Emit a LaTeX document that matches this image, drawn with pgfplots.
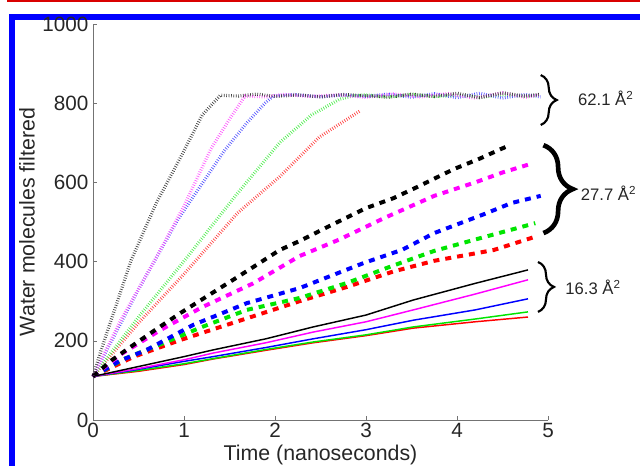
\documentclass[border=0pt]{standalone}
\usepackage{pgfplots}
\pgfplotsset{compat=1.18}
\usepackage{fontspec}
\setmainfont{Liberation Sans}
\usetikzlibrary{decorations.pathreplacing}
\definecolor{mgreen}{rgb}{0,0.9,0}
\definecolor{mmag}{rgb}{1,0,1}
\definecolor{mblue}{rgb}{0,0,1}
\definecolor{mred}{rgb}{1,0,0}
\definecolor{mblack}{rgb}{0,0,0}
\definecolor{fblue}{rgb}{0.2,0.2,1}
\begin{document}
\begin{tikzpicture}
\useasboundingbox (0pt,0pt) rectangle (480pt,349.5pt);
\draw[red!85!black, line width=1.6pt] (5.25pt,348.45pt) -- (480pt,348.45pt);
\draw[blue, line width=4.5pt] (9pt,0pt) -- (9pt,337.1pt) -- (482pt,337.1pt);
\begin{axis}[
  at={(69.75pt,34.5pt)}, anchor=south west,
  scale only axis, width=341.25pt, height=297pt,
  xmin=0, xmax=5, ymin=0, ymax=1000,
  axis lines=left, axis line style={-, draw=black!55},
  xtick={0,1,2,3,4,5}, ytick={0,200,400,600,800,1000},
  tick align=inside, major tick length=3pt,
  tick style={black!55},
  /pgf/number format/assume math mode=true,
  /pgf/number format/1000 sep={},
  tick label style={font=\fontsize{15.5}{17}\selectfont, text=black!85},
  xticklabel style={yshift=1pt},
  label style={font=\fontsize{16}{18}\selectfont, text=black!85},
  xlabel={Time (nanoseconds)},
  ylabel={Water molecules filtered},
  xlabel style={at={(axis description cs:0.5,-0.088)}, anchor=center},
  ylabel style={at={(axis description cs:-0.145,0.5)}, anchor=center},
  clip=false,
  dotsty/.style={line width=2.4pt, dash pattern=on 0.5pt off 1.3pt},
  dashsty/.style={line width=3pt, dash pattern=on 4.5pt off 4.5pt},
  solsty/.style={line width=1.1pt},
]
% ---- 62.1 A^2 (dotted)
\addplot[dotsty, mred!75] coordinates {(0,110)(0.5,245)(1.01,371)(1.59,523)(2.05,614)(2.49,715)(2.93,780)};
\addplot[dotsty, mgreen!70] coordinates {(0,110)(0.5,260)(1.01,404)(1.59,573)(2.05,700)(2.4,770)(2.71,810)(2.85,818)(3.0,821)(3.25,816)(3.5,822)(3.75,817)(4.0,820)(4.25,815)(4.5,821)(4.75,817)(4.9,820)};
\addplot[dotsty, fblue!85] coordinates {(0,110)(0.5,330)(0.93,505)(1.1,563)(1.45,682)(1.69,750)(1.89,800)(1.98,818)(2.2,822)(2.5,816)(2.75,821)(3.0,817)(3.25,823)(3.5,815)(3.75,824)(4.0,814)(4.25,825)(4.5,813)(4.75,822)(4.92,816)};
\addplot[dotsty, mmag!65] coordinates {(0,110)(0.3,250)(0.68,404)(1.0,540)(1.29,682)(1.5,760)(1.67,818)(1.9,816)(2.1,822)(2.4,817)(2.7,821)(3.0,815)(3.3,823)(3.6,816)(3.9,824)(4.2,813)(4.5,826)(4.75,815)(4.9,821)};
\addplot[dotsty, mblack!75] coordinates {(0,110)(0.09,177)(0.42,404)(0.7,550)(0.96,662)(1.2,770)(1.40,820)(1.6,818)(1.8,823)(2.0,817)(2.25,821)(2.5,816)(2.75,822)(3.0,819)(3.25,815)(3.5,823)(3.75,817)(4.0,825)(4.25,814)(4.5,826)(4.75,818)(4.9,822)};
% ---- 27.7 A^2 (dashed)
\addplot[dashsty, mred] coordinates {(0,110)(0.45,160)(0.96,202)(1.4,235)(1.87,270)(2.27,300)(2.79,336)(3.3,375)(3.75,402)(4.4,429)(4.89,465)};
\addplot[dashsty, mgreen] coordinates {(0,110)(0.35,155)(0.77,194)(1.2,235)(1.69,278)(2.27,308)(2.79,346)(3.3,390)(3.75,427)(4.3,462)(4.86,497)};
\addplot[dashsty, mblue] coordinates {(0,110)(0.3,150)(0.59,177)(1.1,240)(1.69,295)(2.27,333)(2.97,396)(3.4,430)(3.75,472)(4.3,520)(4.6,548)(4.92,566)};
\addplot[dashsty, mmag] coordinates {(0,110)(0.3,165)(0.74,227)(1.2,285)(1.76,345)(2.27,414)(2.7,455)(3.2,510)(3.75,566)(4.2,600)(4.5,625)(4.80,646)};
\addplot[dashsty, mblack] coordinates {(0,110)(0.2,150)(0.41,184)(0.7,230)(0.96,270)(1.25,312)(1.54,354)(1.8,392)(2.05,429)(2.27,452)(2.6,490)(3.0,535)(3.3,560)(3.56,588)(3.97,634)(4.25,660)(4.48,684)(4.58,694)};
% ---- 16.3 A^2 (solid)
\addplot[solsty, mred] coordinates {(0,110)(0.5,123)(1.0,140)(1.32,154)(1.9,176)(2.42,195)(3.0,213)(3.52,232)(4.2,248)(4.78,260)};
\addplot[solsty, mgreen] coordinates {(0,110)(0.5,125)(1.0,142)(1.32,155)(1.9,178)(2.42,197)(3.0,215)(3.52,235)(4.2,255)(4.78,273)};
\addplot[solsty, mblue] coordinates {(0,110)(0.5,128)(1.0,148)(1.32,160)(1.9,183)(2.42,205)(3.0,228)(3.52,252)(4.2,278)(4.78,306)};
\addplot[solsty, mmag] coordinates {(0,110)(0.5,130)(1.0,152)(1.32,169)(1.9,195)(2.42,222)(3.0,248)(3.52,278)(4.2,318)(4.78,354)};
\addplot[solsty, mblack] coordinates {(0,110)(0.5,135)(1.0,160)(1.32,177)(1.9,205)(2.42,235)(3.0,265)(3.52,303)(4.2,345)(4.78,379)};
% ---- braces and labels
\draw[decorate, decoration={brace, amplitude=12pt}, line width=1.6pt] (axis cs:4.92,871) -- (axis cs:4.92,745);
\draw[decorate, decoration={brace, amplitude=22pt}, line width=3.5pt] (axis cs:4.95,694) -- (axis cs:4.95,472);
\draw[decorate, decoration={brace, amplitude=12pt}, line width=1.6pt] (axis cs:4.89,399) -- (axis cs:4.89,273);
\node[anchor=west, font=\fontsize{12.5}{14}\selectfont, text=black!85] at (axis cs:5.28,813) {62.1 Å\textsuperscript{2}};
\node[anchor=west, font=\fontsize{12.5}{14}\selectfont, text=black!85] at (axis cs:5.31,573) {27.7 Å\textsuperscript{2}};
\node[anchor=west, font=\fontsize{12.5}{14}\selectfont, text=black!85] at (axis cs:5.14,336) {16.3 Å\textsuperscript{2}};
\end{axis}
\end{tikzpicture}
\end{document}
